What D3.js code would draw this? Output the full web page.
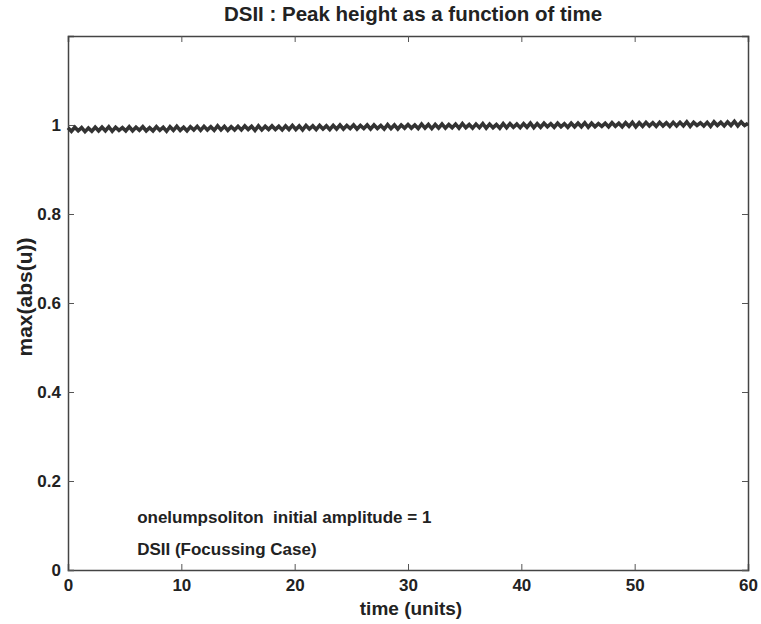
<!DOCTYPE html>
<html>
<head>
<meta charset="utf-8">
<script src="https://cdn.jsdelivr.net/npm/d3@7"></script>
<style>
  body{margin:0;background:#fff;}
  text{font-family:"Liberation Sans",Arial,sans-serif;font-weight:bold;fill:#222;}
</style>
</head>
<body>
<div id="chart"></div>
<script>
// peak height samples, every 0.3 time units from 0 to 60
const peakHeight = [
  .994,.986,.995,.987,.994,.985,.993,.986,.995,.987,
  .995,.987,.996,.986,.995,.988,.994,.987,.996,.987,
  .995,.988,.996,.987,.994,.987,.996,.988,.995,.986,
  .996,.988,.997,.988,.995,.987,.996,.989,.997,.988,
  .997,.989,.996,.988,.998,.989,.997,.988,.996,.989,
  .997,.989,.998,.990,.997,.988,.998,.989,.997,.990,
  .998,.990,.997,.989,.998,.990,.999,.990,.998,.989,
  .999,.991,.998,.990,.999,.991,.998,.990,.999,.991,
  1.000,.991,.999,.992,1.000,.991,.999,.992,1.000,.991,
  1.000,.992,.999,.991,1.001,.992,1.000,.991,1.000,.993,
  1.001,.993,1.000,.992,1.002,.993,1.001,.992,1.001,.993,
  1.002,.993,1.001,.994,1.002,.993,1.003,.994,1.001,.993,
  1.002,.994,1.003,.993,1.002,.994,1.001,.993,1.003,.994,
  1.003,.995,1.002,.994,1.003,.995,1.004,.994,1.003,.995,
  1.004,.996,1.003,.995,1.004,.996,1.003,.995,1.004,.996,
  1.004,.996,1.005,.995,1.004,.996,1.003,.997,1.004,.996,
  1.005,.997,1.004,.996,1.005,.997,1.006,.996,1.005,.997,
  1.006,.998,1.005,.997,1.006,.998,1.005,.997,1.006,.998,
  1.006,.998,1.007,.997,1.006,.999,1.005,.998,1.006,.997,
  1.007,.999,1.006,.998,1.007,.999,1.008,.998,1.007,.999,
  1.004
];
const timeStep = 0.3;
const xTicks = [0,10,20,30,40,50,60];
const yTicks = [0,0.2,0.4,0.6,0.8,1];
const notes = ["onelumpsoliton  initial amplitude = 1","DSII (Focussing Case)"];

const W=761,H=624;
const m={top:36,right:13,bottom:54,left:68};
const iw=W-m.left-m.right, ih=H-m.top-m.bottom;

const svg=d3.select("#chart").append("svg").attr("width",W).attr("height",H);
const g=svg.append("g").attr("transform",`translate(${m.left},${m.top})`);

const x=d3.scaleLinear().domain([0,60]).range([0,iw]);
const y=d3.scaleLinear().domain([0,1.2]).range([ih,0]);

// ticks inward on all four sides
const tk=6;
g.append("g").attr("transform",`translate(0,${ih})`)
  .call(d3.axisBottom(x).tickValues(xTicks).tickSize(-tk).tickPadding(tk+3).tickFormat(d3.format("d")));
g.append("g")
  .call(d3.axisTop(x).tickValues(xTicks).tickSize(-tk).tickFormat(""));
g.append("g")
  .call(d3.axisLeft(y).tickValues(yTicks).tickSize(-tk).tickPadding(7).tickFormat(d=>d===0||d===1?d3.format("d")(d):d3.format(".1f")(d)));
g.append("g").attr("transform",`translate(${iw},0)`)
  .call(d3.axisRight(y).tickValues(yTicks).tickSize(-tk).tickFormat(""));

g.selectAll(".domain").attr("stroke","#444").attr("stroke-width",1.5);
g.selectAll(".tick line").attr("stroke","#555");
g.selectAll(".tick text").style("font-size","17px").style("font-family","'Liberation Sans',Arial,sans-serif").style("font-weight","bold").attr("fill","#222");

// data line
const line=d3.line().x((d,i)=>x(i*timeStep)).y(d=>y(d));
g.append("path").datum(peakHeight)
  .attr("fill","none").attr("stroke","#333").attr("stroke-width",3.6)
  .attr("d",line);

// annotations
g.selectAll("text.note").data(notes).join("text").attr("class","note")
  .attr("x",x(6.1)).attr("y",(d,i)=>487+i*32)
  .style("font-size","17px").style("white-space","pre").text(d=>d);

svg.append("text").attr("x",m.left+iw/2+5).attr("y",21).attr("text-anchor","middle")
  .style("font-size","20.5px").text("DSII : Peak height as a function of time");
svg.append("text").attr("x",m.left+iw/2+3).attr("y",615).attr("text-anchor","middle")
  .style("font-size","19px").text("time (units)");
svg.append("text").attr("transform",`translate(32,${m.top+ih/2-6}) rotate(-90)`).attr("text-anchor","middle")
  .style("font-size","21px").text("max(abs(u))");
</script>
</body>
</html>
